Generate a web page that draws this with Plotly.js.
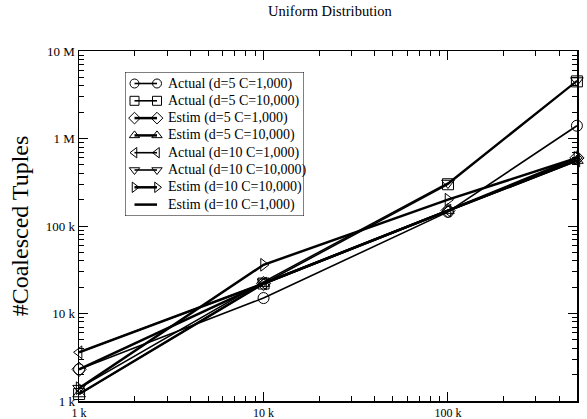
<!DOCTYPE html>
<html>
<head>
<meta charset="utf-8">
<script src="https://cdn.plot.ly/plotly-3.0.1.min.js"></script>
<style>html,body{margin:0;padding:0;background:#fff;}#chart{width:587px;height:419px;}</style>
</head>
<body>
<div id="chart"></div>
<script>
// Data sizes (x axis)
const sizes = [1000, 10000, 100000, 500000];

// Series names
const seriesNames = [
  "Actual (d=5 C=1,000)",
  "Actual (d=5 C=10,000)",
  "Estim (d=5 C=1,000)",
  "Estim (d=5 C=10,000)",
  "Actual (d=10 C=1,000)",
  "Actual (d=10 C=10,000)",
  "Estim (d=10 C=10,000)",
  "Estim (d=10 C=1,000)"
];

// Series values (coalesced tuples)
const actualD5C1000   = [2300, 15000, 145000, 1400000];
const actualD5C10000  = [1200, 22000, 300000, 4500000];
const estimD5C1000    = [2300, 22000, 150000, 600000];
const estimD5C10000   = [1200, 22000, 150000, 560000];
const actualD10C1000  = [3600, 22000, 150000, 560000];
const actualD10C10000 = [1400, 23000, 310000, 4600000];
const estimD10C10000  = [1400, 36000, 200000, 600000];
const estimD10C1000   = [3600, 22000, 150000, 560000];

// Tick labels
const xTickVals = [1000, 10000, 100000];
const xTickText = ["1 k", "10 k", "100 k"];
const yTickVals = [1000, 10000, 100000, 1000000, 10000000];
const yTickText = ["1 k", "10 k", "100 k", "1 M", "10 M"];

const seriesValues = [actualD5C1000, actualD5C10000, estimD5C1000, estimD5C10000,
                      actualD10C1000, actualD10C10000, estimD10C10000, estimD10C1000];
const symbols = ["circle-open", "square-open", "diamond-open", "triangle-up-open",
                 "triangle-left-open", "triangle-down-open", "triangle-right-open", null];
const widths = [1.6, 1.6, 2.5, 2.5, 1.6, 1.6, 2.5, 2.5];

function minorTicks(lo, hi) {
  const out = [];
  for (let d = lo; d < hi; d *= 10) for (let m = 2; m <= 9; m++) out.push(m * d);
  return out;
}

const font = "'Liberation Serif', 'Times New Roman', Times, serif";

// Figure geometry (pixels)
const W = 587, H = 419, ML = 79, MR = 10, MT = 51, MB = 18;
const plotW = W - ML - MR, plotH = H - MT - MB;
// Legend box (pixels in the page)
const LB = {x0: 125, x1: 304, y0: 72, y1: 216, row0: 83.5, rowStep: 17.3, mk0: 134.5, mk1: 157, text: 166};

const traces = [];
seriesNames.forEach((name, i) => {
  const hasMarker = symbols[i] !== null;
  traces.push({
    x: sizes, y: seriesValues[i], name: name, type: "scatter",
    mode: hasMarker ? "lines+markers" : "lines",
    line: {color: "#000", width: widths[i]},
    marker: {symbol: hasMarker ? symbols[i] : "circle", size: 11, color: "#000", line: {color: "#000", width: 1}},
    cliponaxis: false,
    showlegend: false, hoverinfo: "skip", xaxis: "x", yaxis: "y"
  });
});

// Legend samples (line with a marker at each end), drawn in an overlay axis in page pixels
seriesNames.forEach((name, i) => {
  const hasMarker = symbols[i] !== null;
  const ry = LB.row0 + LB.rowStep * i;
  traces.push({
    x: [LB.mk0, LB.mk1], y: [ry, ry], type: "scatter",
    mode: hasMarker ? "lines+markers" : "lines",
    line: {color: "#000", width: widths[i]},
    marker: {symbol: hasMarker ? symbols[i] : "circle", size: 9, color: "#000", line: {color: "#000", width: 1}},
    cliponaxis: false,
    showlegend: false, hoverinfo: "skip", xaxis: "x2", yaxis: "y2"
  });
});

const annotations = seriesNames.map((name, i) => ({
  x: LB.text, y: LB.row0 + LB.rowStep * i, xref: "x2", yref: "y2",
  text: name, showarrow: false, xanchor: "left", yanchor: "middle",
  font: {family: font, size: 14, color: "#000"}
}));

const layout = {
  width: W, height: H,
  margin: {l: ML, r: MR, t: MT, b: MB},
  paper_bgcolor: "#fff", plot_bgcolor: "#fff",
  font: {family: font, color: "#000", size: 13},
  title: {text: "Uniform Distribution", font: {family: font, size: 14.5, color: "#000"},
          x: 0.562, xanchor: "center", y: 0.985, yanchor: "top"},
  showlegend: false,
  xaxis: {
    type: "log", range: [2.9995, Math.log10(500000) + 0.0005],
    tickvals: xTickVals, ticktext: xTickText,
    ticks: "inside", ticklen: 9, tickwidth: 1, tickcolor: "#000",
    minor: {tickvals: minorTicks(1000, 1000000).filter(v => v < 500000), ticks: "inside", ticklen: 5, tickcolor: "#000", showgrid: false},
    showline: true, linecolor: "#000", linewidth: 1.5, mirror: "ticks",
    showgrid: false, zeroline: false, fixedrange: true,
    tickfont: {family: font, size: 12, color: "#000"}
  },
  yaxis: {
    type: "log", range: [2.9995, 7.0005],
    tickvals: yTickVals, ticktext: yTickText,
    ticks: "inside", ticklen: 9, tickwidth: 1, tickcolor: "#000",
    minor: {tickvals: minorTicks(1000, 10000000), ticks: "inside", ticklen: 5, tickcolor: "#000", showgrid: false},
    showline: true, linecolor: "#000", linewidth: 1.5, mirror: "ticks",
    showgrid: false, zeroline: false, fixedrange: true,
    tickfont: {family: font, size: 13, color: "#000"},
    title: {text: "#Coalesced Tuples", font: {family: font, size: 24, color: "#000"}, standoff: 10}
  },
  xaxis2: {
    domain: [(LB.x0 - ML) / plotW, (LB.x1 - ML) / plotW], range: [LB.x0, LB.x1],
    anchor: "y2", visible: false, fixedrange: true
  },
  yaxis2: {
    domain: [(H - MB - LB.y1) / plotH, (H - MB - LB.y0) / plotH], range: [LB.y1, LB.y0],
    anchor: "x2", visible: false, fixedrange: true
  },
  shapes: [{
    type: "rect", xref: "x2", yref: "y2", x0: LB.x0, x1: LB.x1, y0: LB.y0, y1: LB.y1,
    line: {color: "#000", width: 1}, fillcolor: "#fff", layer: "below"
  }],
  annotations: annotations
};

Plotly.newPlot("chart", traces, layout, {displayModeBar: false, staticPlot: true});
</script>
</body>
</html>
